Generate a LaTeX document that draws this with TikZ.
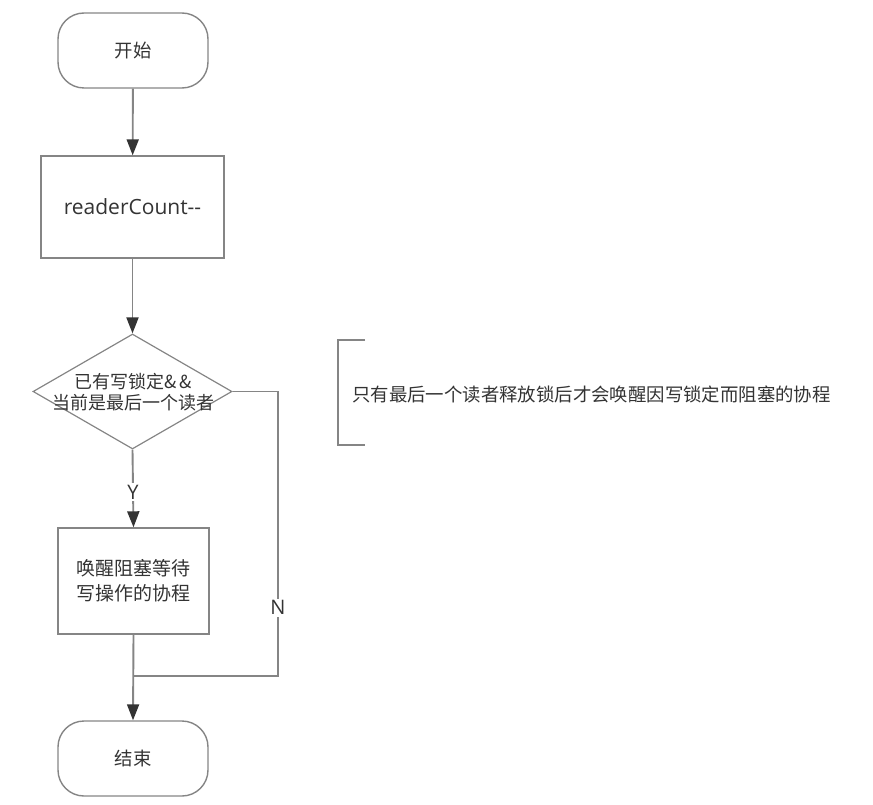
\documentclass[tikz,border=0pt]{standalone}
\usepackage{fontspec}
\setmainfont{Open Sans}
\newfontfamily\cjk{Noto Sans CJK SC}
\usetikzlibrary{shapes.geometric,arrows.meta}
\definecolor{edge}{HTML}{858585}
\definecolor{ink}{HTML}{333333}
\tikzset{
  terminal/.style={draw=edge,line width=1.4pt,rounded corners=26pt,minimum width=150pt,minimum height=75pt,inner sep=0pt,text=ink},
  procbox/.style={draw=edge,line width=1.4pt,minimum width=#1,inner sep=0pt,text=ink},
  decision/.style={draw=edge,line width=1.2pt,shape=diamond,minimum width=199pt,minimum height=115pt,inner sep=0pt,aspect=1.73},
  conn/.style={draw=edge,line width=1.9pt},
  arr/.style={conn,-{Triangle[length=16pt,width=12pt,color=ink]}},
  lbl/.style={fill=white,inner sep=2pt,text=ink,font=\fontsize{20}{22}\selectfont},
  zh/.style={font=\cjk\fontsize{18.4}{22}\selectfont,text=ink,align=center}
}
\begin{document}
\begin{tikzpicture}[x=1pt,y=-1pt]
\useasboundingbox (0,0) rectangle (873,805);
\node[terminal,zh] (start) at (133,50.5) {开始};
\node[procbox=183pt,minimum height=102pt,font=\fontsize{21}{24}\selectfont] (rc) at (132.5,207) {readerCount-{}-};
\node[decision] (dec) at (132.5,391.5) {};
\node[zh,font=\cjk\fontsize{18}{20.5}\selectfont,inner sep=0pt] (dectext) at (133,392) {已有写锁定\&\,\&\\当前是最后一个读者};
\node[procbox=151pt,minimum height=106pt,zh,font=\cjk\fontsize{19}{25}\selectfont] (wake) at (133.5,581) {唤醒阻塞等待\\写操作的协程};
\node[terminal,zh] (end) at (133,758.5) {结束};
\coordinate (nr) at (278,391.5);
\coordinate (nb) at (278,676);
\coordinate (join) at (133.5,676);
\draw[arr] (start) -- (rc);
\draw[arr] (rc) -- (dec);
\draw[arr] (dec.south) -- node[lbl,pos=0.55] (ylab) {Y} (wake.north);
\draw[conn] (dec.east) -- (nr) -- node[lbl,pos=0.76] (nlab) {N} (nb) -- (join);
\draw[arr] (wake.south) -- (end.north);
\coordinate (bt) at (365,340);
\coordinate (bb) at (365,445);
\draw[edge,line width=1.4pt] (bt) -- (338,340) -- (338,445) -- (bb);
\node[zh,anchor=west,inner sep=0pt] (note) at (352,394) {只有最后一个读者释放锁后才会唤醒因写锁定而阻塞的协程};
\end{tikzpicture}
\end{document}
